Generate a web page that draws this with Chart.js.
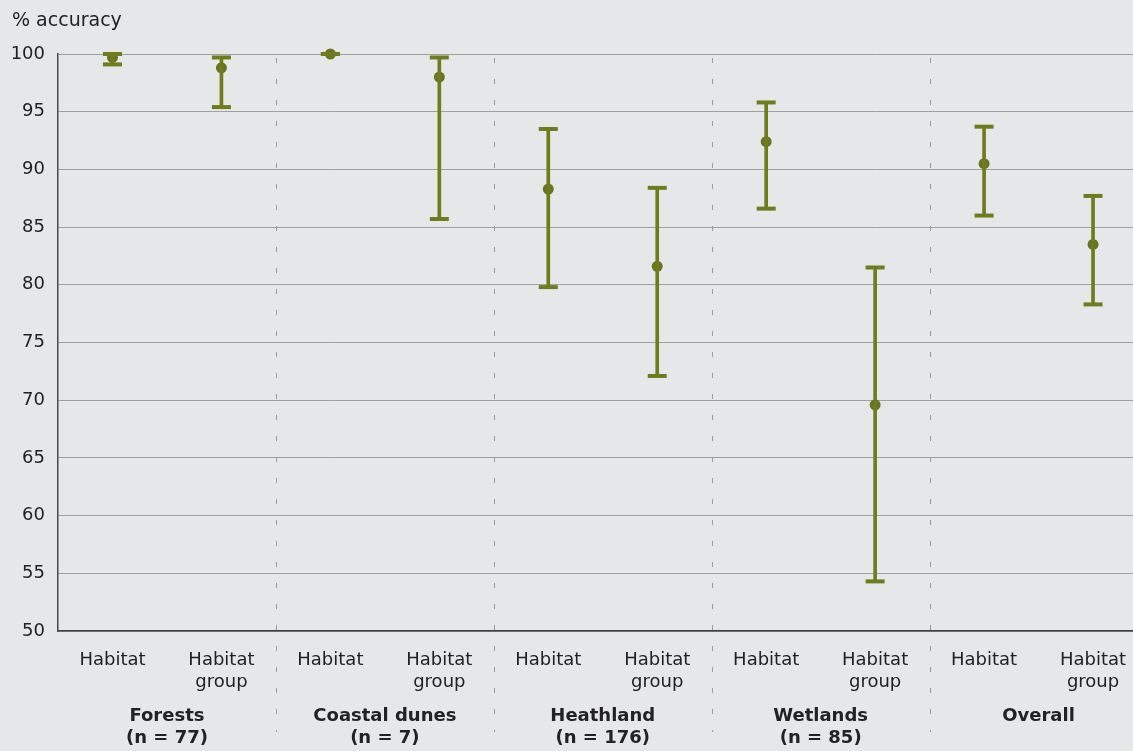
<!DOCTYPE html>
<html>
<head>
<meta charset="utf-8">
<script src="https://cdn.jsdelivr.net/npm/chart.js@4/dist/chart.umd.min.js"></script>
<style>
  html { overflow: hidden; background: #e6e7e9; }
  body { margin: 0; padding: 0; width: 1161px; min-width: 1161px; }
  /* the reference plot runs past the right edge of the picture */
  #wrap { width: 1161px; height: 751px; position: relative; }
</style>
</head>
<body>
<div id="wrap"><canvas id="accChart"></canvas></div>
<script>
// data
const categories = [
  ['Habitat'], ['Habitat', 'group'],
  ['Habitat'], ['Habitat', 'group'],
  ['Habitat'], ['Habitat', 'group'],
  ['Habitat'], ['Habitat', 'group'],
  ['Habitat'], ['Habitat', 'group'],
];
const groups = [
  ['Forests', '(n = 77)'],
  ['Coastal dunes', '(n = 7)'],
  ['Heathland', '(n = 176)'],
  ['Wetlands', '(n = 85)'],
  ['Overall'],
];
const estimate = [99.7, 98.8, 100.0, 98.0, 88.3, 81.6, 92.4, 69.6, 90.5, 83.5];
const lower    = [99.1, 95.4, 100.0, 85.7, 79.8, 72.1, 86.6, 54.3, 86.0, 78.3];
const upper    = [100.0, 99.7, 100.0, 99.7, 93.5, 88.4, 95.8, 81.5, 93.7, 87.7];
const yMin = 50, yMax = 100, yStep = 5;

const OLIVE = '#6e7c1e';
const OLIVE_DOT = '#6a7420';
const TXT = '#222';
const FONT = '"DejaVu Sans", Verdana, sans-serif';

const extras = {
  id: 'extras',
  beforeDatasetsDraw(chart) {
    const { ctx, chartArea, scales: { x } } = chart;
    ctx.save();
    ctx.strokeStyle = '#9a9a9a';
    ctx.lineWidth = 1;
    ctx.setLineDash([5, 16]);
    for (let i = 1; i < groups.length; i++) {
      const px = Math.round((x.getPixelForValue(2 * i - 1) + x.getPixelForValue(2 * i)) / 2) + 0.5;
      ctx.beginPath();
      ctx.moveTo(px, chartArea.top + 4);
      ctx.lineTo(px, 732);
      ctx.stroke();
    }
    ctx.restore();
  },
  afterDraw(chart) {
    const { ctx, scales: { x } } = chart;
    ctx.save();
    ctx.fillStyle = TXT;
    ctx.textBaseline = 'middle';
    ctx.font = '19px ' + FONT;
    ctx.textAlign = 'left';
    ctx.fillText('% accuracy', 12, 21);

    ctx.font = 'bold 18px ' + FONT;
    ctx.textAlign = 'center';
    groups.forEach((g, i) => {
      const cx = (x.getPixelForValue(2 * i) + x.getPixelForValue(2 * i + 1)) / 2;
      g.forEach((line, j) => ctx.fillText(line, cx, 716 + j * 22));
    });
    ctx.restore();
  }
};

new Chart(document.getElementById('accChart'), {
  data: {
    labels: categories,
    datasets: [
      {
        type: 'bar',
        data: lower.map((lo, i) => [lo, upper[i]]),
        backgroundColor: OLIVE,
        borderWidth: 0,
        barThickness: 3,
        grouped: false,
        clip: false,
      },
      {
        type: 'line',
        data: upper,
        showLine: false,
        pointStyle: 'line',
        pointRadius: 9.5,
        pointBorderWidth: 4,
        pointBorderColor: OLIVE,
        clip: false,
      },
      {
        type: 'line',
        data: lower,
        showLine: false,
        pointStyle: 'line',
        pointRadius: 9.5,
        pointBorderWidth: 4,
        pointBorderColor: OLIVE,
        clip: false,
      },
      {
        type: 'line',
        data: estimate,
        showLine: false,
        pointStyle: 'circle',
        pointRadius: 5.5,
        pointBorderWidth: 0,
        pointBackgroundColor: OLIVE_DOT,
        clip: false,
      },
    ],
  },
  options: {
    responsive: true,
    maintainAspectRatio: false,
    animation: false,
    devicePixelRatio: 1,
    layout: { padding: { top: 54, right: 0, left: 0, bottom: 0 } },
    plugins: { legend: { display: false }, tooltip: { enabled: false } },
    scales: {
      x: {
        type: 'category',
        offset: true,
        grid: { display: false, drawTicks: false },
        border: { display: true, color: '#3c3c3c', width: 1.5 },
        ticks: {
          color: TXT, font: { family: FONT, size: 18 }, padding: 19,
          autoSkip: false, maxRotation: 0, minRotation: 0,
        },
        afterFit(s) { s.height = 120; },
      },
      y: {
        min: yMin, max: yMax,
        grid: { color: '#a0a0a0', lineWidth: 1, drawTicks: false },
        border: { display: true, color: '#4a4a4a', width: 1.5 },
        ticks: { stepSize: yStep, color: TXT, font: { family: FONT, size: 18 }, padding: 13 },
        afterFit(s) { s.width = 58; },
      },
    },
  },
  plugins: [extras],
});
</script>
</body>
</html>
